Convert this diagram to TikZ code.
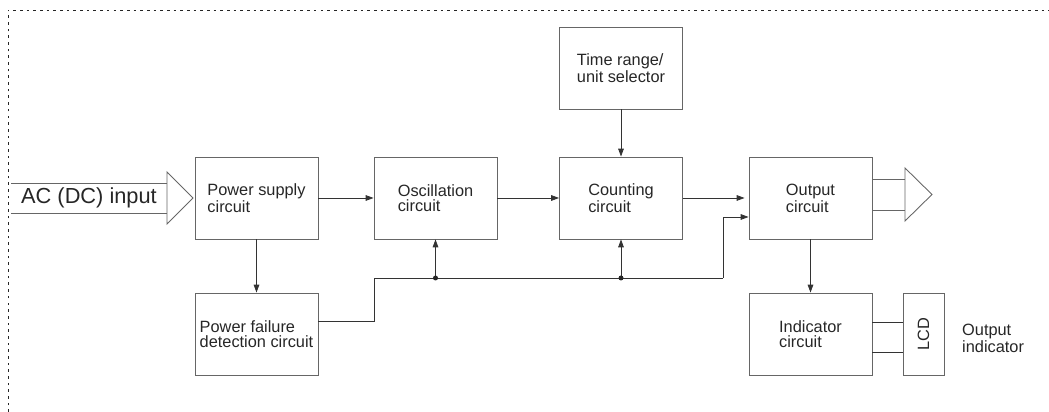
\documentclass[tikz,border=0pt]{standalone}
\usepackage{fontspec}
\setmainfont{Liberation Sans}
\usetikzlibrary{arrows.meta}

\begin{document}
\begin{tikzpicture}[
  box/.style={draw=black!60,line width=0.5pt,minimum width=2.46cm,minimum height=1.64cm,inner sep=0pt,align=left,font=\fontsize{9.3}{8.6}\selectfont,text=black!85},
  arrow/.style={-{Triangle[length=4.5pt,width=3.2pt]},draw=black!80,line width=0.45pt},
  line/.style={draw=black!80,line width=0.45pt},
  hollow/.style={draw=black!60,line width=0.5pt,line join=miter},
  border/.style={draw=black!85,line width=0.5pt,dash pattern=on 1.5pt off 2.3pt},
  note/.style={font=\fontsize{9.3}{8.6}\selectfont,text=black!85,align=left},
  dot/.style={fill=black!85},
]
\useasboundingbox (0,0) rectangle (20.98,8.24);
\draw[border] (0.16,0)--(0.16,8.04)--(20.98,8.04);

\node[box] (ps) at (5.13,4.28) {Power supply\\circuit};
\node[box] (pf) at (5.13,1.56) {Power failure\\detection circuit};
\node[box] (osc) at (8.71,4.28) {Oscillation\\circuit};
\node[box] (cnt) at (12.42,4.28) {Counting\\circuit};
\node[box] (sel) at (12.42,6.88) {Time range/\\unit selector};
\node[box] (out) at (16.21,4.28) {Output\\circuit};
\node[box] (ind) at (16.21,1.56) {Indicator\\circuit};
\node[box,minimum width=1.64cm,minimum height=0.82cm,rotate=90] (lcd) at (18.47,1.56) {LCD};
\node[note,anchor=west] (oind) at (19.12,1.47) {Output\\indicator};

% input arrow
\node[note,font=\fontsize{12.4}{14}\selectfont] (in) at (1.78,4.28) {AC (DC) input};
\draw[hollow] (0.22,4.58)--(3.34,4.58);
\draw[hollow] (0.22,3.98)--(3.34,3.98);
\draw[hollow] (3.34,4.80)--(3.86,4.28)--(3.34,3.76)--cycle;

% output arrow
\draw[hollow] (17.44,4.66)--(18.10,4.66);
\draw[hollow] (17.44,4.04)--(18.10,4.04);
\draw[hollow] (18.10,4.88)--(18.64,4.35)--(18.10,3.82)--cycle;

\draw[arrow] (ps)--(osc);
\draw[arrow] (osc)--(cnt);
\draw[arrow,shorten >=0.08cm] (cnt)--(out);
\draw[arrow] (sel)--(cnt);
\draw[arrow] (ps)--(pf);
\draw[arrow] (out)--(ind);

% bus from power failure detection
\coordinate (j1) at (8.71,2.68);
\coordinate (j2) at (12.42,2.68);
\coordinate (bend) at (14.46,2.68);
\draw[line] ([yshift=0.26cm]pf.east) -| (7.48,2.68) -- (j1) -- (j2) -- (bend);
\draw[arrow] (bend) |- ([yshift=-0.38cm]out.west);
\draw[arrow] (j1)--(osc.south);
\draw[arrow] (j2)--(cnt.south);
\fill[dot] (j1) circle (0.05);
\fill[dot] (j2) circle (0.05);

\draw[line] ([yshift=0.24cm]ind.east)--([yshift=0.24cm]lcd.north);
\draw[line] ([yshift=-0.36cm]ind.east)--([yshift=-0.36cm]lcd.north);
\end{tikzpicture}
\end{document}
